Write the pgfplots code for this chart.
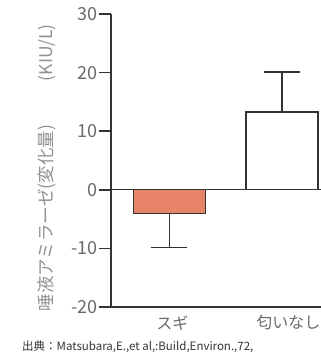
\documentclass[border=0pt]{standalone}
\usepackage{fontspec}
\setmainfont{Noto Sans CJK JP}
\usepackage{pgfplots}
\pgfplotsset{compat=1.18}
\definecolor{sugi}{HTML}{E8836A}
\definecolor{ax}{HTML}{333333}
\definecolor{tl}{HTML}{6A6A6A}
\definecolor{yl}{HTML}{909090}
\begin{document}
\begin{tikzpicture}
\useasboundingbox (0pt,0pt) rectangle (321pt,354pt);
\begin{axis}[at={(111pt,47pt)}, anchor=south west, scale only axis,
  width=210pt, height=293pt,
  xmin=-0.52, xmax=1.3467, ymin=-20, ymax=30,
  axis x line*=bottom, axis y line*=left, axis line style={line width=1.6pt, draw=ax},
  ytick={-20,-10,0,10,20,30}, xtick=\empty,
  major tick length=12pt, tick style={line width=1.6pt, draw=ax},
  tick align=outside,
  /pgf/number format/assume math mode=true,
  yticklabel style={font=\fontsize{18}{18}\selectfont, text=tl, inner sep=1pt},
  clip=false,
]
\addplot[line width=0.8pt, ax] coordinates {(-0.52,0) (1.3467,0)};
\addplot[ybar, bar width=72pt, bar shift=0pt, fill=sugi, draw=ax, line width=1.3pt,
  error bars/.cd, y dir=minus, y explicit,
  error bar style={line width=1.3pt, ax},
  error mark options={line width=1.3pt, ax, mark size=18pt, rotate=90}]
  coordinates {(0,-4.1) +- (0,5.8)};
\addplot[ybar, bar width=72pt, bar shift=0pt, fill=white, draw=ax, line width=1.3pt,
  error bars/.cd, y dir=plus, y explicit,
  error bar style={line width=1.3pt, ax},
  error mark options={line width=1.3pt, ax, mark size=18pt, rotate=90}]
  coordinates {(1,13.3) +- (0,6.8)};
\coordinate (tA) at (axis cs:-0.52,-20);
\coordinate (tB) at (axis cs:-0.52,-10);
\coordinate (tC) at (axis cs:-0.52,0);
\coordinate (tD) at (axis cs:-0.52,10);
\coordinate (tE) at (axis cs:-0.52,20);
\coordinate (tF) at (axis cs:-0.52,30);
\node[text=tl, font=\fontsize{16}{16}\selectfont, anchor=north] at ([xshift=3pt,yshift=-5pt]axis cs:0,-20) {スギ};
\node[text=tl, font=\fontsize{16}{16}\selectfont, anchor=north east, inner xsep=0.5pt] at ([yshift=-5pt]axis cs:1.3467,-20) {匂いなし};
\end{axis}
\foreach \t in {tA,tB,tC,tD,tE,tF}{
  \draw[ax, line width=1.6pt] (\t) -- ++(-12pt,0pt);
}
\node[rotate=90, text=yl, font=\fontsize{17.5}{17.5}\selectfont] at (47pt,186pt) {唾液アミラーゼ(変化量)\hspace{2.5em}(KIU/L)};
\node[anchor=base west, text=ax, font=\fontsize{11.5}{11.5}\selectfont, inner sep=0pt] at (22pt,3pt) {出典：Matsubara,E.,et al,:Build,Environ.,72,};
\end{tikzpicture}
\end{document}
